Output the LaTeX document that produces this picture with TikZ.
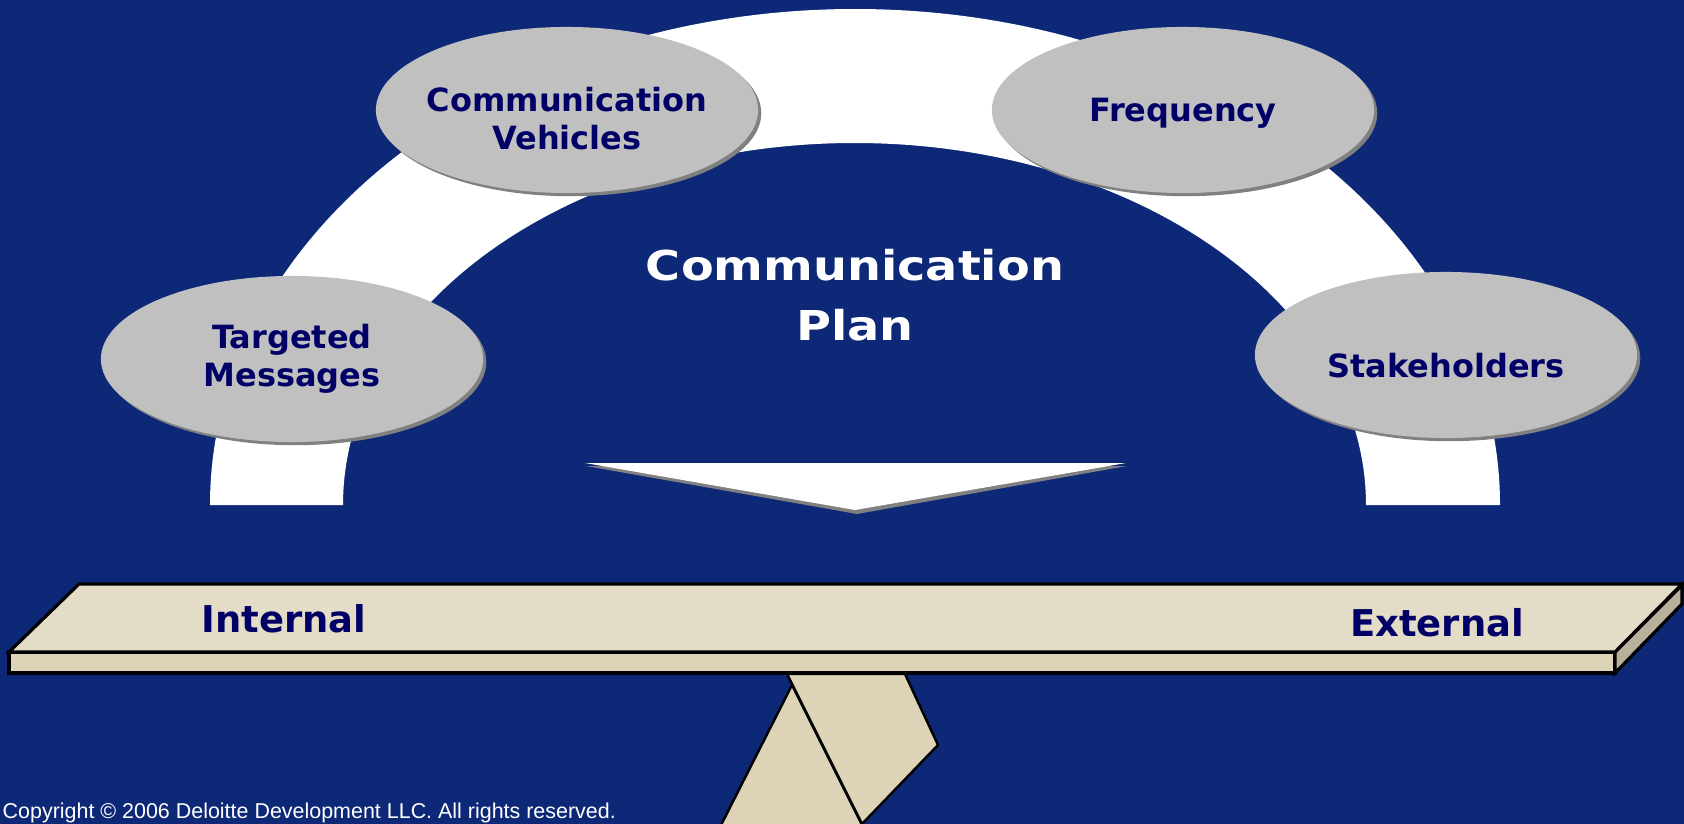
\documentclass[tikz,border=0pt]{standalone}
\usepackage{fontspec}
\setmainfont{DejaVu Sans}
\newfontfamily\titlefont{DejaVu Sans}[FakeStretch=1.16]
\newfontfamily\notefont{Liberation Sans}
\usetikzlibrary{shapes.geometric,shadows}
\definecolor{bgblue}{RGB}{13,40,119}
\definecolor{ellgray}{RGB}{192,192,192}
\definecolor{shadowgray}{RGB}{128,128,128}
\definecolor{navytext}{RGB}{0,0,102}
\definecolor{boardtop}{RGB}{227,220,198}
\definecolor{boardfront}{RGB}{221,211,183}
\definecolor{boardside}{RGB}{184,176,154}
\begin{document}
\begin{tikzpicture}[x=0.01cm,y=-0.01cm,
  topic/.style={ellipse,fill=ellgray,minimum width=3.82cm,minimum height=1.66cm,inner sep=0pt,
    drop shadow={shadow xshift=0.9pt,shadow yshift=-0.9pt,fill=shadowgray,opacity=1}},
  topictext/.style={text=navytext,align=center,inner sep=0pt,font=\fontsize{9.1}{10.8}\selectfont\bfseries},
  sidetext/.style={text=navytext,anchor=base,inner sep=0pt,font=\fontsize{10.5}{12}\selectfont\bfseries},
  edge/.style={draw=black,line width=0.9pt,line join=miter},
  standline/.style={draw=black,line width=0.7pt,fill=boardfront,line join=miter}]
\fill[bgblue] (0,0) rectangle (1684,824);
\useasboundingbox (0,0) rectangle (1684,824);
% white half ring
\fill[white] (210,505) arc[start angle=180,end angle=360,x radius=645,y radius=496]
  -- (1366,505) arc[start angle=360,end angle=180,x radius=511.5,y radius=362] -- cycle;
% arrow pointing down
\fill[shadowgray] (586,466) -- (1127,466) -- (857,514) -- cycle;
\fill[white] (585,463) -- (1126,463) -- (855,510) -- cycle;
% ellipses
\node[topic] (targeted) at (292,359) {};
\node[topictext] (targetedtext) at (targeted) {Targeted\\Messages};
\node[topic] (vehicles) at (567,110) {};
\node[topictext,yshift=-2.3pt] (vehiclestext) at (vehicles) {Communication\\Vehicles};
\node[topic] (frequency) at (1183,110) {};
\node[topictext,yshift=-0.9pt] (frequencytext) at (frequency) {Frequency};
\node[topic] (stakeholders) at (1446,355) {};
\node[topictext,yshift=-3.1pt] (stakeholderstext) at (stakeholders) {Stakeholders};
\node[text=white,align=center,inner sep=0pt,font=\titlefont\bfseries\fontsize{11.7}{17.1}\selectfont] (plan) at (855,295) {Communication\\Plan};
% stand
\draw[standline] (792,685) -- (716,835) -- (867,835) -- cycle;
\draw[standline] (787,674) -- (905,674) -- (938,745) -- (862,824) -- cycle;
% board
\draw[edge,fill=boardfront] (9,652) -- (1615,652) -- (1615,673) -- (9,673) -- cycle;
\draw[edge,fill=boardside] (1615,652) -- (1682,585) -- (1682,604) -- (1615,673) -- cycle;
\draw[edge,fill=boardtop] (9,652) -- (79,584) -- (1682,584) -- (1615,652) -- cycle;
\node[sidetext] (internal) at (284,632) {Internal};
\node[sidetext] (external) at (1437,636) {External};
\node[text=white,anchor=base west,inner sep=0pt,font=\notefont\fontsize{6.1}{7}\selectfont] (copyright) at (2,818) {Copyright © 2006 Deloitte Development LLC. All rights reserved.};
\end{tikzpicture}
\end{document}
